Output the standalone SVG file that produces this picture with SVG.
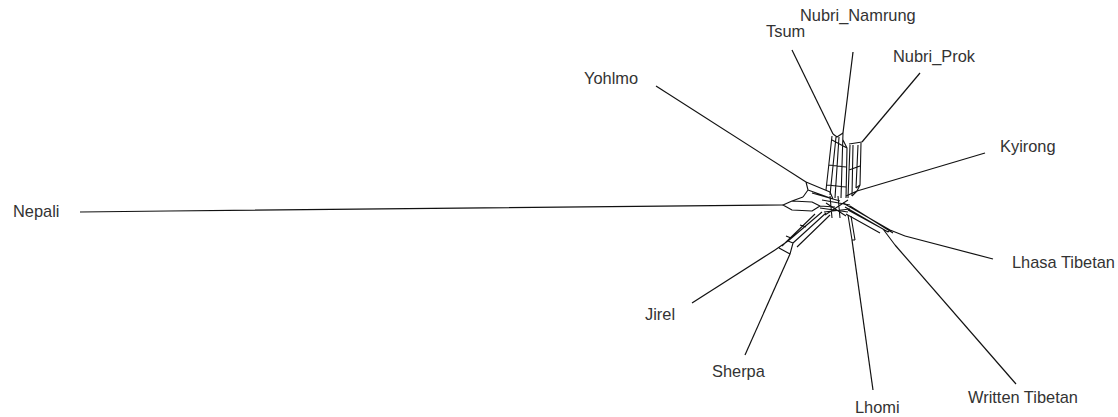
<svg xmlns="http://www.w3.org/2000/svg" width="1118" height="417" viewBox="0 0 1118 417">
<style>
.e{fill:none;stroke:#111;stroke-width:1.2;stroke-linejoin:round}
.m{fill:none;stroke:#111;stroke-width:1.1;stroke-linejoin:round}
.t{font-family:"Liberation Sans",Arial,sans-serif;font-size:16.4px;fill:#333}
</style>
<rect width="1118" height="417" fill="#fff"/>
<g id="connectors">
<path class="e" d="M80,212 L168,211 L783,205"/>
<path class="e" d="M656,86 L806,182"/>
<path class="e" d="M792,50 L833,134"/>
<path class="e" d="M853,52 L843,133"/>
<path class="e" d="M920,73 L862,142"/>
<path class="e" d="M985,153 L857,191"/>
<path class="e" d="M993,259 L905,236"/>
<path class="e" d="M1016,384 L895,245"/>
<path class="e" d="M873,390 L852,240"/>
<path class="e" d="M745,355 L790,254"/>
<path class="e" d="M692,303 L775,250"/>
<path class="m" d="M833,134 L837,137 L843,133 M832,136 L826,190 M836,137 L830,195 M839,137 L835,198 M843,133 L841,198 M843,140 L847,148 L846,198 M832,140 L847,148 M829,165 L846,167 M827,185 L846,187"/>
<path class="m" d="M849,144 L862,142 M850,145 L848,198 M853,145 L852,196 M858,145 L856,188 M861,143 L860,185 M856,188 L860,185 M849,170 L860,166"/>
<path class="m" d="M857,191 L846,196 M860,185 L857,191 M852,196 L857,191"/>
<path class="m" d="M806,182 L830,192 M806,182 L808,190 L833,199 M830,192 L833,199 M812,193 L840,201 M808,190 L803,197"/>
<path class="m" d="M783,205 L792,201 L812,202 L820,206 L812,211 L792,210 Z M820,206 L835,207 M803,197 L792,201"/>
<path class="m" d="M775,250 L788,241 L822,212 M790,254 L793,243 L826,213 M782,246 L815,214 M797,247 L830,215 M788,241 L793,243 M786,236 L791,238 M800,225 L806,227 M779,248 L790,254"/>
<path class="m" d="M843,203 L890,230 L905,236 M845,207 L888,232 M848,210 L883,229 L895,245 M846,214 L880,233 M890,230 L888,232 M850,206 L893,233"/>
<path class="m" d="M852,240 L848,215 M855,240 L851,216 M852,240 L855,240"/>
<path class="m" d="M822,200 L850,205 M820,208 L848,212 M825,215 L848,200 M830,196 L832,218 M838,196 L840,218 M826,203 L846,216 M824,212 L850,209"/>
</g>
<g id="n-nepali"><text class="t" x="13" y="217">Nepali</text></g>
<g id="n-yohlmo"><text class="t" x="584" y="84">Yohlmo</text></g>
<g id="n-tsum"><text class="t" x="766" y="37">Tsum</text></g>
<g id="n-nubri-namrung"><text class="t" x="800" y="21">Nubri_Namrung</text></g>
<g id="n-nubri-prok"><text class="t" x="893" y="62">Nubri_Prok</text></g>
<g id="n-kyirong"><text class="t" x="1000" y="152">Kyirong</text></g>
<g id="n-lhasa"><text class="t" x="1012" y="268">Lhasa Tibetan</text></g>
<g id="n-written"><text class="t" x="968" y="403">Written Tibetan</text></g>
<g id="n-lhomi"><text class="t" x="855" y="413">Lhomi</text></g>
<g id="n-sherpa"><text class="t" x="712" y="377">Sherpa</text></g>
<g id="n-jirel"><text class="t" x="645" y="320">Jirel</text></g>
</svg>
